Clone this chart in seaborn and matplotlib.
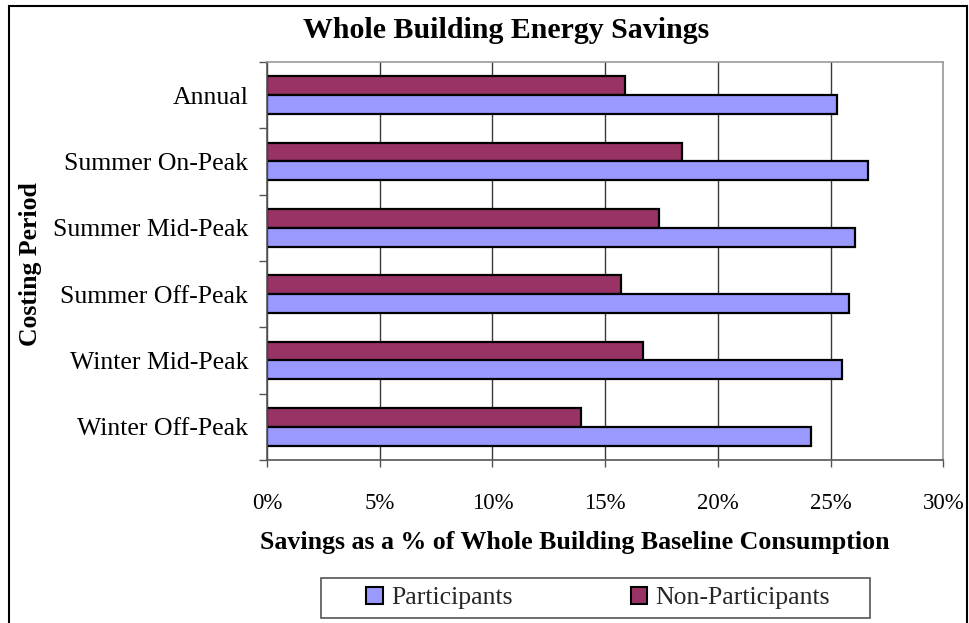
import numpy as np
import pandas as pd
import matplotlib
matplotlib.use("Agg")
import matplotlib.pyplot as plt
from matplotlib.patches import Patch, Rectangle
from matplotlib.ticker import FuncFormatter
import seaborn as sns

# Savings by costing period, percent of whole-building baseline consumption
periods = ["Annual", "Summer On-Peak", "Summer Mid-Peak", "Summer Off-Peak",
           "Winter Mid-Peak", "Winter Off-Peak"]
participants = [25.3, 26.65, 26.1, 25.8, 25.5, 24.15]
non_participants = [15.9, 18.4, 17.4, 15.7, 16.7, 13.95]
groups = ["Participants", "Non-Participants"]
colors = {"Participants": "#9999FF", "Non-Participants": "#993366"}
xticks = [0, 5, 10, 15, 20, 25, 30]

df = pd.DataFrame({
    "period": periods * 2,
    "savings": participants + non_participants,
    "group": ["Participants"] * len(periods) + ["Non-Participants"] * len(periods),
})

sns.set_theme(style="white")
plt.rcParams["font.family"] = ["Liberation Serif", "DejaVu Serif"]

W, H = 969, 623
fig = plt.figure(figsize=(W / 100, H / 100), dpi=100)
fig.patch.set_facecolor("white")


def fx(px):
    return px / W


def fy(py):
    return 1 - py / H


ax = fig.add_axes([fx(267), fy(460), fx(943.3) - fx(267), fy(62) - fy(460)])

sns.barplot(data=df, y="period", x="savings", hue="group",
            hue_order=["Non-Participants", "Participants"], order=periods,
            palette=colors, orient="h", width=2 / 3.5, gap=0,
            edgecolor="black", linewidth=1.6, saturation=1, legend=False, ax=ax)

ax.set_xlim(0, 30)
ax.set_ylim(len(periods) - 0.5, -0.5)
ax.set_xticks(xticks)
ax.xaxis.set_major_formatter(FuncFormatter(lambda v, p: f"{v:.0f}%"))
ax.grid(axis="x", color="#3a3a3a", linewidth=1.0)
ax.grid(axis="y", visible=False)
ax.set_axisbelow(True)

# category ticks sit on the band boundaries
ax.set_yticks(np.arange(-0.5, len(periods)), minor=True)
ax.tick_params(axis="y", which="major", length=0, pad=13.5, labelsize=18.5,
               labelcolor="black")
ax.tick_params(axis="y", which="minor", left=True, length=6, width=1,
               color="#555555")
ax.tick_params(axis="x", which="major", bottom=True, length=5, width=1,
               color="#555555", pad=19, labelsize=16.5, labelcolor="black")

for side in ["left", "bottom"]:
    ax.spines[side].set_color("#555555")
    ax.spines[side].set_linewidth(1.2)
for side in ["top", "right"]:
    ax.spines[side].set_color("#999999")
    ax.spines[side].set_linewidth(1.2)

ax.set_xlabel("")
ax.set_ylabel("")

fig.text(fx(506), fy(30), "Whole Building Energy Savings", ha="center",
         va="center", fontsize=21.5, fontweight="bold", color="black")
fig.text(fx(575), fy(542), "Savings as a % of Whole Building Baseline Consumption",
         ha="center", va="center", fontsize=18.6, fontweight="bold",
         color="black")
fig.text(fx(31), fy(264), "Costing Period", ha="center", va="center",
         rotation=90, fontsize=18.5, fontweight="bold", color="black")

handles = [Patch(facecolor=colors[g], edgecolor="black", linewidth=1.5, label=g)
           for g in groups]
fig.legend(handles=handles, loc="center", bbox_to_anchor=(fx(598), fy(598)),
           ncol=2, frameon=False, fontsize=18.5, handlelength=0.65,
           handleheight=0.65, handletextpad=0.3, columnspacing=4.6,
           borderpad=0)
fig.add_artist(Rectangle((fx(321), fy(618)), fx(870) - fx(321), fy(578) - fy(618),
                         transform=fig.transFigure, fill=False,
                         edgecolor="#555555", linewidth=1.2))

# outer chart frame
fig.add_artist(Rectangle((fx(8.5), fy(640)), fx(967) - fx(8.5), fy(6) - fy(640),
                         transform=fig.transFigure, fill=False,
                         edgecolor="black", linewidth=1.5, clip_on=False))

fig.savefig("out.png", dpi=100, facecolor="white")
